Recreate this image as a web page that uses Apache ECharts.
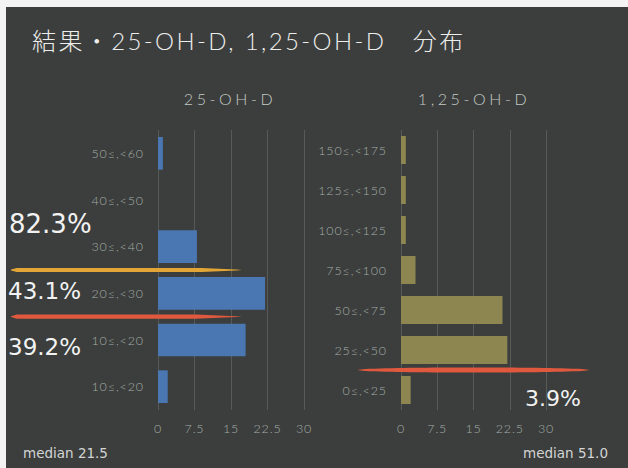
<!DOCTYPE html>
<html>
<head>
<meta charset="utf-8">
<script src="https://cdn.jsdelivr.net/npm/echarts@6/dist/echarts.min.js"></script>
<style>
  html, body { margin: 0; padding: 0; background: #3b3e3c; }
  #chart { width: 628px; height: 468px; }
</style>
</head>
<body>
<div id="chart"></div>
<script>
// 25-OH-D bins (top to bottom) and number of subjects in each
const binsD25 = ['50≤,<60', '40≤,<50', '30≤,<40', '20≤,<30', '10≤,<20', '10≤,<20'];
const countsD25 = [1, 0, 8, 22, 18, 2];

// 1,25-OH-D bins (top to bottom) and number of subjects in each
const binsD125 = ['150≤,<175', '125≤,<150', '100≤,<125', '75≤,<100', '50≤,<75', '25≤,<50', '0≤,<25'];
const countsD125 = [1, 1, 1, 3, 21, 22, 2];

// shared count axis
const countTicks = [0, 7.5, 15, 22.5, 30];

const mainTitle = '結果・25-OH-D, 1,25-OH-D　分布';
const panelTitles = ['25-OH-D', '1,25-OH-D'];
const medians = ['21.5', '51.0'];

// shares of the total, one decimal
const sum = arr => arr.reduce((a, b) => a + b, 0);
const share = (n, total) => Math.round(n / total * 1000) / 10;
const totalD25 = sum(countsD25);
const totalD125 = sum(countsD125);
const share20to30 = share(countsD25[3], totalD25);
const shareBelow20 = share(countsD25[4] + countsD25[5], totalD25);
const shareBelow30 = Math.round((share20to30 + shareBelow20) * 10) / 10;
const shareBelow25 = share(countsD125[6], totalD125);

const el = document.getElementById('chart');
const chart = echarts.init(el, null, { renderer: 'svg', width: 628, height: 468 });

const labelFont = { color: '#a3aca8', fontFamily: 'Lato', fontSize: 12.5, fontWeight: 300 };

function countAxis(gridIndex) {
  return {
    gridIndex, type: 'value',
    min: countTicks[0], max: countTicks[countTicks.length - 1],
    interval: countTicks[1] - countTicks[0],
    axisLine: { show: false }, axisTick: { show: false },
    splitLine: { show: true, lineStyle: { color: '#575b58', width: 1 } },
    axisLabel: Object.assign({ margin: 12 }, labelFont)
  };
}
function binAxis(gridIndex, data) {
  return {
    gridIndex, type: 'category', inverse: true, data,
    axisLine: { show: false }, axisTick: { show: false },
    splitLine: { show: false },
    axisLabel: Object.assign({ margin: 14 }, labelFont)
  };
}

chart.setOption({
  backgroundColor: '#3b3e3c',
  animation: false,
  grid: [
    { left: 158, top: 130, width: 146, height: 280 },
    { left: 401, top: 130, width: 145, height: 280 }
  ],
  xAxis: [countAxis(0), countAxis(1)],
  yAxis: [binAxis(0, binsD25), binAxis(1, binsD125)],
  series: [
    { type: 'bar', xAxisIndex: 0, yAxisIndex: 0, data: countsD25,
      barCategoryGap: '30%', itemStyle: { color: '#4a77b2' } },
    { type: 'bar', xAxisIndex: 1, yAxisIndex: 1, data: countsD125,
      barCategoryGap: '30%', itemStyle: { color: '#8e8651' } }
  ]
});

// y position of the boundary between two neighbouring bins
function boundaryY(axisIndex, idx) {
  const a = chart.convertToPixel({ yAxisIndex: axisIndex }, idx);
  const b = chart.convertToPixel({ yAxisIndex: axisIndex }, idx + 1);
  return (a + b) / 2;
}

// marker stroke: half-width follows profile(t), t running 0..1 from x0 to x1
function brush(x0, x1, y, w, color, profile) {
  const n = 40, top = [], bot = [];
  for (let i = 0; i <= n; i++) {
    const t = i / n, x = x0 + (x1 - x0) * t, h = (w / 2) * profile(t);
    top.push([x, y - h]);
    bot.unshift([x, y + h]);
  }
  return { type: 'polygon', z: 100, shape: { points: top.concat(bot) }, style: { fill: color } };
}
// round start, long slow taper to a point at the end
const leftStroke = t => Math.min(1, Math.sqrt(t / 0.02) * 0.8 + 0.2) * (t < 0.8 ? 1 : Math.pow((1 - t) / 0.2, 0.8));
// pointed at both ends
const bothTaper = t => Math.pow(Math.sin(Math.PI * t), 0.45);

function text(x, y, str, style) {
  return { type: 'text', z: 100, x, y,
    style: Object.assign({ text: str, verticalAlign: 'middle' }, style) };
}

const yOrange = boundaryY(0, 2);   // between 30≤,<40 and 20≤,<30
const yRedL = boundaryY(0, 3);     // between 20≤,<30 and 10≤,<20
const yRedR = boundaryY(1, 5);     // between 25≤,<50 and 0≤,<25
const cxL = chart.convertToPixel({ xAxisIndex: 0 }, 0) + 70;
const cxR = chart.convertToPixel({ xAxisIndex: 1 }, 0) + 71;

const pctStyle = { fill: '#f2f2f2', fontFamily: 'DejaVu Sans' };
const medStyle = { fill: '#d4d4d4', fontFamily: 'DejaVu Sans', fontSize: 13.5 };
const panelStyle = { fill: '#c4c8c6', fontFamily: 'Lato', fontSize: 16, fontWeight: 300, align: 'center' };

chart.setOption({
  graphic: [
    // paper edge
    { type: 'rect', shape: { x: 0, y: 0, width: 628, height: 7 }, style: { fill: '#f3f3f3' }, z: 200 },
    { type: 'rect', shape: { x: 0, y: 0, width: 6, height: 468 }, style: { fill: '#f3f3f3' }, z: 200 },
    text(32, 40, mainTitle, { fill: '#ededed', fontFamily: 'Lato, "Noto Sans CJK JP"', fontSize: 24, fontWeight: 300 }),
    text(cxL + 2, 98, panelTitles[0], panelStyle),
    text(cxR + 2, 98, panelTitles[1], panelStyle),
    brush(11, 242, yOrange, 4.2, '#e3a636', leftStroke),
    brush(11, 242, yRedL, 4.2, '#e0593f', leftStroke),
    brush(357, 590, yRedR, 5.2, '#e0593f', bothTaper),
    text(9, yOrange - 46, shareBelow30.toFixed(1) + '%', Object.assign({ fontSize: 26 }, pctStyle)),
    text(8, yOrange + 21, share20to30.toFixed(1) + '%', Object.assign({ fontSize: 23 }, pctStyle)),
    text(8, yRedL + 30, shareBelow20.toFixed(1) + '%', Object.assign({ fontSize: 23 }, pctStyle)),
    text(581, yRedR + 28, shareBelow25.toFixed(1) + '%', Object.assign({ fontSize: 22, align: 'right' }, pctStyle)),
    text(23, 453, 'median ' + medians[0], medStyle),
    text(608, 453, 'median ' + medians[1], Object.assign({ align: 'right' }, medStyle))
  ]
});

// letter spacing of the light captions
const spacing = { [mainTitle]: 2.4, [panelTitles[0]]: 3.6, [panelTitles[1]]: 3.6 };
binsD25.concat(binsD125).forEach(s => { spacing[s] = 0.9; });
countTicks.forEach(t => { spacing[String(t)] = 0.8; });
el.querySelectorAll('text').forEach(t => {
  const s = spacing[t.textContent];
  if (s) t.style.letterSpacing = s + 'px';
});
</script>
</body>
</html>
